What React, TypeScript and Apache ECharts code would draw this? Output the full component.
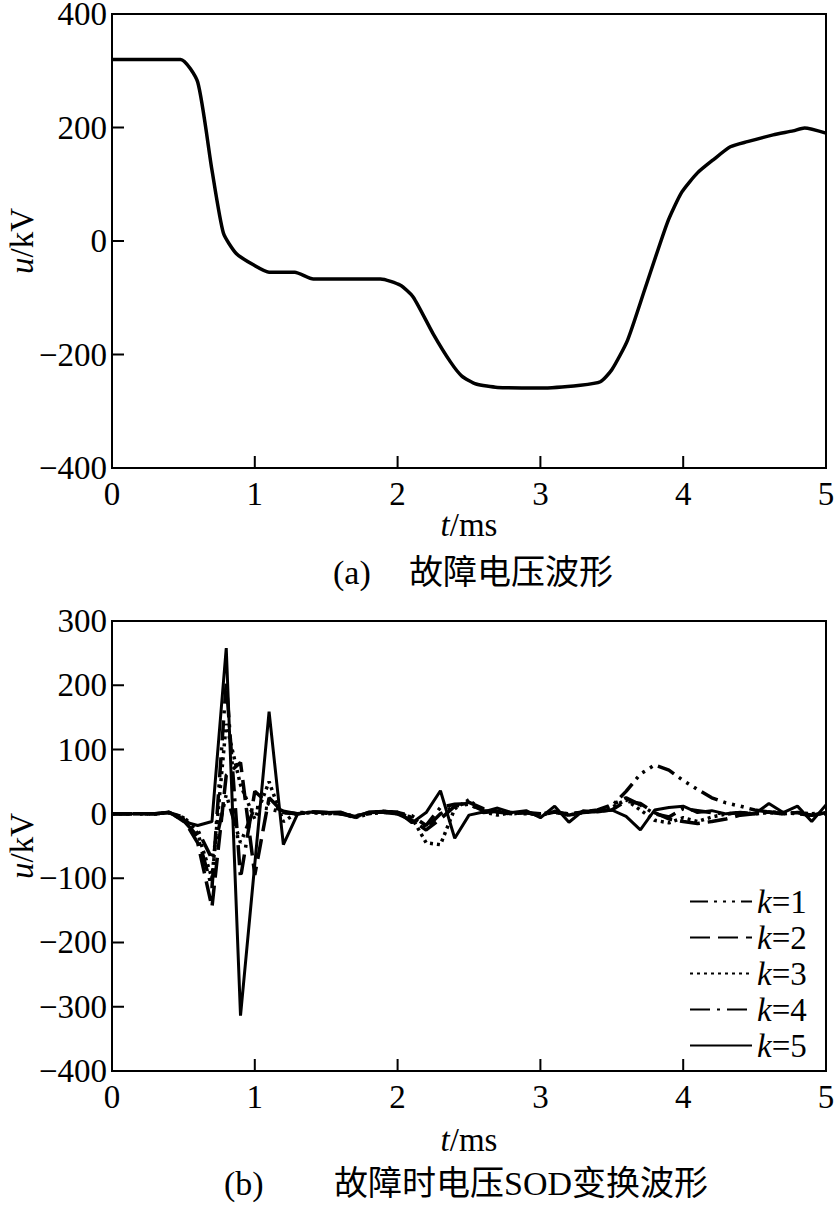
import React, { useEffect, useRef } from "react";
import * as echarts from "echarts";

// (a) fault voltage waveform, t in ms, u in kV
const faultT = [0, 0.48, 0.6, 0.7, 0.78, 0.87, 0.99, 1.1, 1.28, 1.41, 1.88, 2.02, 2.11, 2.25, 2.37, 2.45, 2.55, 2.7, 3.0, 3.28, 3.42, 3.5, 3.61, 3.73, 3.89, 3.99, 4.1, 4.21, 4.33, 4.45, 4.63, 4.77, 4.85, 5.0];
const faultU = [320, 320, 280, 125, 14, -22, -42, -55, -55, -67, -67, -78, -99, -164, -213, -238, -252, -258, -259, -254, -248, -227, -175, -86, 33, 86, 120, 143, 166, 175, 187, 194, 199, 190];

// (b) SOD transform waveforms
const sodT = [0, 0.1, 0.2, 0.3, 0.4, 0.5, 0.6, 0.7, 0.8, 0.9,
  1.0, 1.1, 1.2, 1.3, 1.4, 1.5, 1.6, 1.7, 1.8, 1.9,
  2.0, 2.1, 2.2, 2.3, 2.4, 2.5, 2.6, 2.7, 2.8, 2.9,
  3.0, 3.1, 3.2, 3.3, 3.4, 3.5, 3.6, 3.7, 3.8, 3.9,
  4.0, 4.1, 4.2, 4.3, 4.4, 4.5, 4.6, 4.7, 4.8, 4.9, 5.0];
const sodK1 = [0, 0, 0, 0, 2, -5, -25, -70, 30, -45,
  10, 8, 2, 0, 2, 1, 0, -3, 0, 2,
  0, -5, -22, 0, 12, 15, 5, 2, 0, 2,
  0, 2, 0, 3, 5, 12, 35, 62, 76, 68,
  52, 38, 25, 17, 12, 6, 3, 2, 0, -2, 0];
const sodK2 = [0, 0, 0, 0, 2, -8, -45, -145, 60, 80,
  -95, 25, 2, 0, 3, 2, 0, -5, 2, 3,
  0, -10, -25, -8, 12, 18, 8, 3, 0, 2,
  -2, 3, 0, 2, 4, 6, 20, 16, 2, -8,
  -12, -15, -12, -8, -2, 0, 3, 0, 2, -3, 2];
const sodK3 = [0, 0, 0, 0, 2, -6, -30, -100, 140, 45,
  -8, 50, -12, 2, 2, 0, 2, -6, 0, 4,
  2, -6, -45, -48, 8, 22, 3, -2, 2, 0,
  0, 3, -2, 2, 5, 10, 22, 6, -10, -14,
  -6, -12, -5, 0, 2, 0, 2, 0, 2, 0, 2];
const sodK4 = [0, 0, 0, 0, 2, -10, -35, -115, 205, -100,
  35, 15, 4, 0, 3, 2, 0, -4, 2, 4,
  2, -3, -18, 10, 15, 16, 2, 4, 0, 2,
  -3, 4, -2, 3, 6, 14, 25, 14, 0, -5,
  8, 5, 2, 0, 2, 0, 3, 0, 2, -2, 2];
const sodK5 = [0, 0, 0, 0, 3, -12, -18, -12, 258, -314,
  -78, 159, -48, 0, 3, 2, 3, -5, 3, 4,
  3, -14, 2, 36, -38, -2, 3, 9, 2, 5,
  -6, 12, -13, 5, 3, 6, -4, -25, 6, 10,
  12, 2, 5, 0, 2, 0, 16, 2, 12, -12, 14];

const seriesNames = ["k=1", "k=2", "k=3", "k=4", "k=5"];
const seriesValues = [sodK1, sodK2, sodK3, sodK4, sodK5];
const dashTypes: any[] = [[18, 6, 3, 6, 3, 6, 3, 6], [20, 8], [3, 4], [20, 7, 3, 7], "solid"];

// inner tick marks
const xTicks = [1, 2, 3, 4];
const yTicksA = [-200, 0, 200];
const yTicksB = [-300, -200, -100, 0, 100, 200];

const titleTagA = "(a)";
const titleTextA = "故障电压波形";
const titleTagB = "(b)";
const titleTextB = "故障时电压SOD变换波形";

const FONT = "'Liberation Serif', 'Times New Roman', 'Noto Sans CJK SC', serif";
const FS = 33;
const TICK_PX = 12;

export default function App() {
  const ref = useRef<HTMLDivElement>(null);
  useEffect(() => {
    document.body.style.margin = "0";
    const chart = echarts.init(ref.current!, null, { renderer: "svg" });
    const minus = (v: number) => String(v).replace("-", "\u2212");
    const labelStyle = () => ({ color: "#000", fontFamily: FONT, fontSize: FS });
    const rich = () => ({ i: { fontStyle: "italic", fontFamily: FONT, fontSize: FS, color: "#000" } });
    const xAxisBase = (gridIndex: number, nameGap: number) => ({
      type: "value",
      gridIndex,
      min: 0,
      max: 5,
      interval: 1,
      splitLine: { show: false },
      axisLine: { show: true, onZero: false, lineStyle: { color: "#000", width: 2 } },
      axisTick: { show: false },
      axisLabel: { ...labelStyle(), margin: 9, formatter: (v: number) => minus(v) },
      name: "{i|t}/ms",
      nameLocation: "middle",
      nameGap,
      nameMoveOverlap: false,
      nameTextStyle: { ...labelStyle(), rich: rich() },
    });
    const yAxisBase = (gridIndex: number, min: number, max: number, interval: number) => ({
      type: "value",
      gridIndex,
      min,
      max,
      interval,
      splitLine: { show: false },
      axisLine: { show: true, onZero: false, lineStyle: { color: "#000", width: 2 } },
      axisTick: { show: false },
      axisLabel: { ...labelStyle(), margin: 5, formatter: (v: number) => minus(v) },
      name: "{i|u}/kV",
      nameLocation: "middle",
      nameGap: 74,
      nameRotate: 90,
      nameMoveOverlap: false,
      nameTextStyle: { ...labelStyle(), rich: rich() },
    });

    // tick marks as short line segments, length converted from pixels to data units
    const tickSeries = (gi: number, yMin: number, yMax: number, gridH: number, yTicks: number[]) => {
      const dy = (TICK_PX * (yMax - yMin)) / gridH;
      const dx = (TICK_PX * 5) / 714;
      const data: any[] = [];
      xTicks.forEach((v) => {
        data.push([v, yMin], [v, yMin + dy], [v, "-"]);
      });
      yTicks.forEach((v) => {
        data.push([0, v], [dx, v], [dx, "-"]);
      });
      return {
        type: "line",
        xAxisIndex: gi,
        yAxisIndex: gi,
        symbol: "none",
        silent: true,
        connectNulls: false,
        z: 30,
        data,
        lineStyle: { color: "#000", width: 2, type: "solid", cap: "butt" },
      };
    };

    const sodSeries = seriesNames.map((name, idx) => ({
      name,
      type: "line",
      xAxisIndex: 1,
      yAxisIndex: 1,
      symbol: "none",
      data: sodT.map((t, j) => [t, seriesValues[idx][j]]),
      lineStyle: { color: "#000", width: idx === 4 ? 3 : 3.5, type: dashTypes[idx], cap: "butt" },
      z: 10 - idx,
    }));

    const titleStyle = () => ({ fill: "#000", fontSize: 34, fontFamily: FONT, textVerticalAlign: "middle" });

    chart.setOption({
      animation: false,
      backgroundColor: "#fff",
      grid: [
        { left: 112, top: 14, width: 714, height: 454, show: true, borderColor: "#000", borderWidth: 2, backgroundColor: "rgba(0,0,0,0)", outerBoundsMode: "none", containLabel: false },
        { left: 112, top: 621, width: 714, height: 450, show: true, borderColor: "#000", borderWidth: 2, backgroundColor: "rgba(0,0,0,0)", outerBoundsMode: "none", containLabel: false },
      ],
      xAxis: [xAxisBase(0, 40), xAxisBase(1, 52)],
      yAxis: [yAxisBase(0, -400, 400, 200), yAxisBase(1, -400, 300, 100)],
      legend: {
        orient: "vertical",
        left: 684,
        top: 880,
        itemWidth: 62,
        itemHeight: 12,
        itemGap: 3,
        data: seriesNames,
        formatter: (n: string) => "{i|k}" + n.slice(1),
        textStyle: { ...labelStyle(), rich: rich() },
        itemStyle: { opacity: 0 },
      },
      graphic: [
        { type: "text", x: 333, y: 572, style: { ...titleStyle(), text: titleTagA } },
        { type: "text", x: 409, y: 572, style: { ...titleStyle(), text: titleTextA } },
        { type: "text", x: 224, y: 1183, style: { ...titleStyle(), text: titleTagB } },
        { type: "text", x: 334, y: 1183, style: { ...titleStyle(), text: titleTextB } },
      ],
      series: [
        {
          name: "fault",
          type: "line",
          xAxisIndex: 0,
          yAxisIndex: 0,
          symbol: "none",
          smooth: 0.2,
          data: faultT.map((t, j) => [t, faultU[j]]),
          lineStyle: { color: "#000", width: 3.5 },
        },
        ...sodSeries,
        tickSeries(0, -400, 400, 454, yTicksA),
        tickSeries(1, -400, 300, 450, yTicksB),
      ],
    });

    return () => chart.dispose();
  }, []);
  return <div ref={ref} style={{ width: 836, height: 1206 }} />;
}
